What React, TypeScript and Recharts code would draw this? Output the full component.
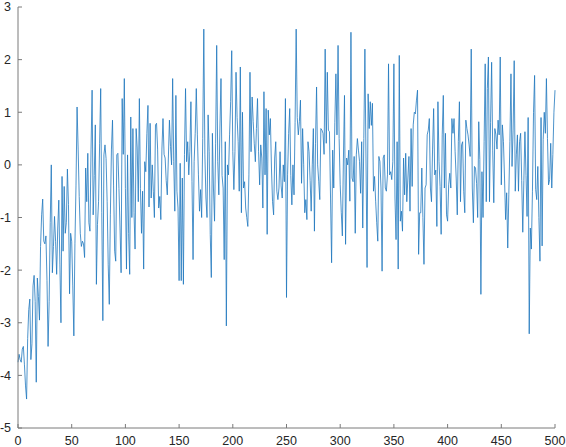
import { LineChart, Line, XAxis, YAxis } from "recharts"

const values = [
  -3.75, -3.6, -3.7, -3.75, -3.5, -3.45, -3.8, -4.2, -4.45, -3.3,
  -2.75, -2.55, -3.7, -3.4, -2.3, -2.1, -2.6, -4.13, -2.15, -2.5,
  -2.95, -1.55, -0.95, -0.65, -1.45, -1.5, -1.35, -2.2, -3.45, -2.6,
  -1.1, 0.0, -2.05, -1.55, -0.98, -1.45, -2.08, -1.2, -0.67, -1.9,
  -3.0, -0.22, -1.64, -0.41, -1.3, -1.1, -0.08, -0.75, -2.45, -1.3,
  -1.45, -2.3, -3.25, -1.5, -0.4, 1.1, 0.3, -0.6, -1.3, -1.55,
  -1.45, -1.5, -1.76, -0.06, -0.7, 0.22, -1.1, -1.26, 0.3, 1.42,
  -0.95, -0.2, 0.76, -2.27, -1.13, -0.7, 0.4, 1.45, -0.9, -2.96,
  0.19, 0.38, 0.12, -0.7, -1.9, -2.65, -0.95, 0.3, 0.85, -0.4,
  -1.64, -1.83, 0.19, 0.22, -0.45, -1.2, -2.05, 1.26, 0.2, 1.64,
  -0.45, -1.98, 0.19, -1.3, -2.08, 0.91, -1.0, 0.69, -0.9, -1.6,
  0.69, 0.32, -0.7, 1.26, -0.45, -1.3, -0.5, -1.98, 0.06, -0.13,
  0.6, 1.13, -0.8, 0.79, -0.63, 0.0, -0.5, -1.0, 0.76, 0.79,
  0.3, -0.82, -0.6, -1.04, 0.3, 0.88, 0.2, 0.13, -0.3, -0.57,
  0.13, 0.85, 0.35, 0.0, 1.64, 0.06, -0.88, 1.32, -0.5, -0.82,
  -2.2, 0.03, -2.2, -0.25, -2.27, 0.2, 1.45, 0.06, 0.44, -0.19,
  0.25, 1.2, -0.32, -1.8, 0.06, 0.6, 1.45, 0.57, -0.19, -0.88,
  -0.47, -1.0, 0.5, 2.58, 0.19, -0.63, -1.0, 0.95, 0.25, -1.32,
  -2.14, 0.6, -0.44, -1.07, 0.4, 2.27, 0.06, -0.57, 0.7, 1.64,
  -0.2, -0.44, -1.8, 0.44, -3.06, 0.0, -0.19, 0.57, 1.2, 2.17,
  0.25, -0.47, 0.25, 1.76, 0.9, 0.44, -0.5, 1.86, -0.91, 1.0,
  -0.44, -0.32, -0.82, -1.0, -1.17, -0.19, 1.76, 0.25, 1.29, 0.82,
  0.4, 0.06, 0.69, 1.26, 0.25, -0.38, 0.38, 0.13, -0.82, 1.39,
  -0.19, 1.07, -1.32, 1.04, 0.57, 0.88, -0.06, -0.7, -0.95, 0.13,
  0.44, -0.5, -0.66, -0.44, 0.25, -0.4, -0.63, 0.0, -0.32, 1.26,
  -2.52, -0.19, 0.6, 1.07, -0.2, -0.76, 0.0, -0.57, 0.8, 2.58,
  0.9, 0.57, 0.82, 1.23, -0.35, 0.69, 0.0, -0.91, -0.66, -1.04,
  0.44, 0.25, -0.3, -0.88, 0.0, 0.69, -1.26, 0.4, 1.48, 0.0,
  -0.31, -0.66, 0.69, 0.66, 0.6, 0.2, 2.2, 0.41, 1.76, 0.66,
  0.63, -0.63, -1.86, 0.28, -0.44, 0.8, 1.73, 0.57, 2.27, 0.5,
  -0.38, -0.9, -1.35, 0.13, 1.32, -1.51, 0.13, 0.0, 0.28, -0.69,
  2.52, -0.25, -0.32, 0.16, -1.3, 0.19, 0.5, 0.28, 0.06, -0.54,
  0.44, -1.2, 0.5, 2.2, 0.13, -1.95, 1.35, 0.69, 1.2, 0.75,
  1.17, -0.5, -0.22, -0.69, -1.1, -1.45, 0.16, 0.06, -0.44, -2.02,
  0.13, 0.19, -0.44, -0.5, -0.19, 1.92, -0.19, -0.13, -0.28, 0.06,
  1.92, -0.63, -1.42, 0.44, -1.98, 2.08, -1.07, -0.88, -1.26, 0.13,
  -0.57, 0.22, -0.7, -0.25, 0.16, -0.88, 0.69, -0.41, 0.76, 1.0,
  0.97, 1.23, 1.42, -1.7, -0.91, -0.91, -0.06, -1.0, -1.89, -0.44,
  -0.38, 0.57, 0.66, 0.88, -0.44, -0.7, 0.3, 1.07, -0.19, -0.1,
  -1.17, 1.2, 0.06, -0.41, -1.32, 0.57, 1.32, -0.44, 0.6, -0.95,
  -1.07, -0.38, -0.16, -0.44, 0.88, 0.6, 0.88, 0.25, -0.25, -0.95,
  0.44, 1.2, -0.7, 0.38, 0.44, -0.5, -0.91, 0.85, 0.69, 0.57,
  0.38, 0.16, 2.2, -0.44, -1.1, -0.03, -0.06, -0.35, -1.0, 0.82,
  0.1, -2.46, -0.13, -1.0, 0.44, 1.92, -0.7, 1.45, 2.05, -0.7,
  0.8, 1.95, 0.28, -0.72, 0.69, 0.57, 0.3, 0.85, 0.57, 2.05,
  -0.38, 0.76, 0.44, -0.25, -1.04, -0.53, -1.58, -0.57, 0.44, 1.73,
  -0.03, 0.66, 1.98, -0.5, 0.19, 0.57, -0.5, 0.44, 0.6, -0.3,
  -1.28, -0.3, 0.63, -0.2, -0.98, 0.9, -3.21, -1.2, -1.6, -0.5,
  1.0, 1.7, -0.47, -0.66, -0.03, -1.0, -1.83, 0.9, -1.54, 0.48,
  1.0, 0.6, 1.64, 0.5, -0.38, -0.28, 0.41, -0.44, 0.2, 1.0,
  1.42,
]

const xTicks = [0, 50, 100, 150, 200, 250, 300, 350, 400, 450, 500]
const yTicks = [-5, -4, -3, -2, -1, 0, 1, 2, 3]

const data = values.map((v, i) => ({ x: i, y: v }))

const axisColor = "#7a7a7a"
const tickFont = { fill: "#262626", fontSize: 12.5, fontFamily: "Liberation Sans, Arial, Helvetica, sans-serif" }

export default function App() {
  return (
    <div style={{ position: "absolute", left: 0, top: 0, background: "#fff" }}>
      <LineChart width={566} height={447} data={data} margin={{ top: 7, right: 11, bottom: 0, left: 0 }}>
        <XAxis
          dataKey="x"
          type="number"
          domain={[0, 500]}
          ticks={xTicks}
          height={19}
          tickSize={-4}
          tickMargin={12}
          stroke={axisColor}
          tick={tickFont}
          interval={0}
        />
        <XAxis
          xAxisId="top"
          orientation="top"
          dataKey="x"
          type="number"
          domain={[0, 500]}
          ticks={xTicks}
          height={0}
          tickSize={-4}
          tick={false}
          stroke={axisColor}
        />
        <YAxis
          type="number"
          domain={[-5, 3]}
          ticks={yTicks}
          width={18}
          tickSize={-4}
          tickMargin={11}
          stroke={axisColor}
          tick={tickFont}
          interval={0}
        />
        <YAxis
          yAxisId="right"
          orientation="right"
          type="number"
          domain={[-5, 3]}
          ticks={yTicks}
          width={0}
          tickSize={-4}
          tick={false}
          stroke={axisColor}
        />
        <Line
          type="linear"
          dataKey="y"
          stroke="#2077be"
          strokeWidth={0.8}
          dot={false}
          activeDot={false}
          isAnimationActive={false}
        />
      </LineChart>
    </div>
  )
}
